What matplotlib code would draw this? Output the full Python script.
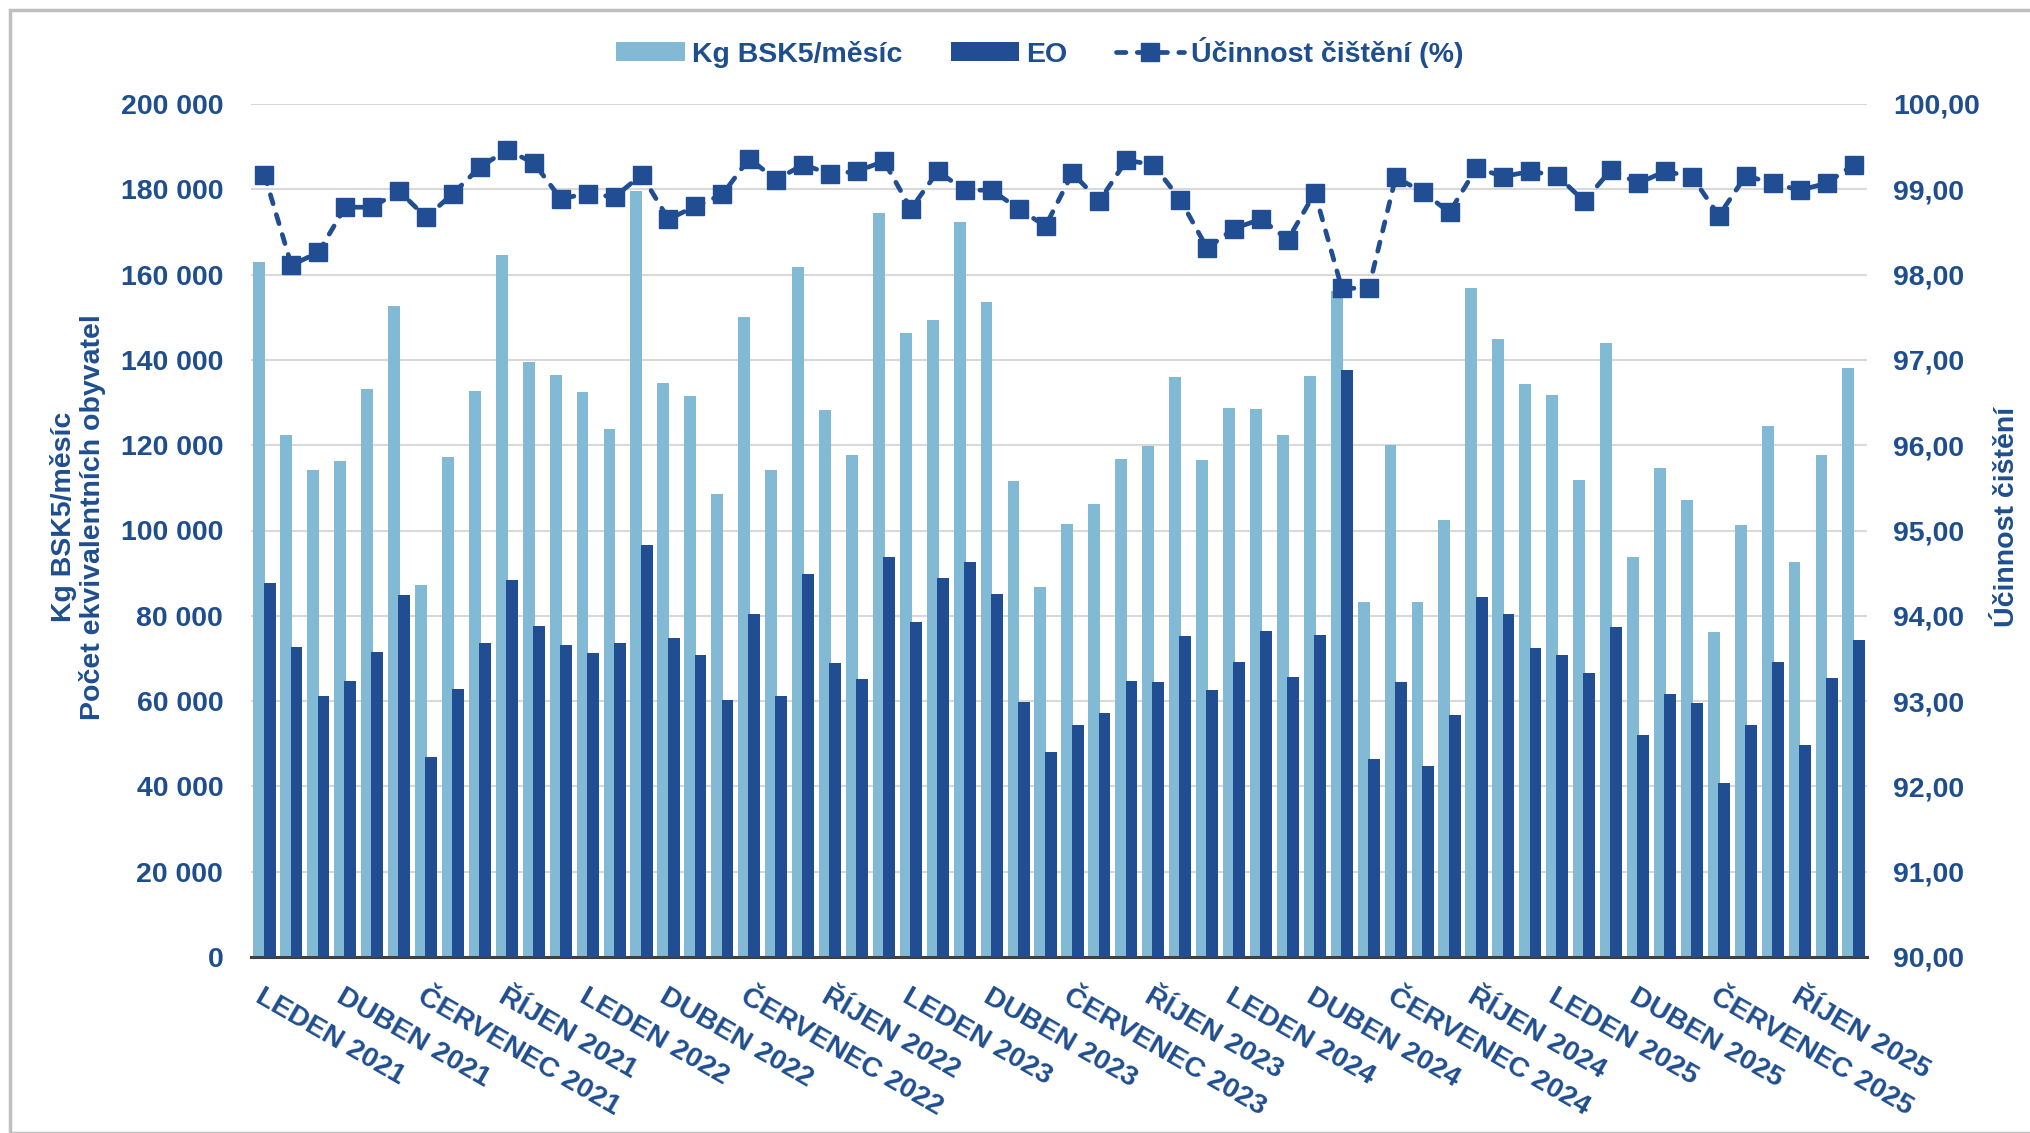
import numpy as np
import matplotlib.pyplot as plt
from matplotlib.ticker import FuncFormatter, MultipleLocator
from matplotlib.patches import Rectangle

plt.rcParams['font.family'] = ['Liberation Sans', 'DejaVu Sans']
plt.rcParams['font.weight'] = 'bold'

# monthly data Jan 2021 - Dec 2025
kg_bsk5 = [162900, 122300, 114100, 116400, 133100, 152700, 87200, 117200, 132800, 164700, 139500, 136400,
           132500, 123900, 179600, 134500, 131500, 108500, 150000, 114300, 161700, 128300, 117600, 174400,
           146300, 149300, 172400, 153500, 111500, 86700, 101600, 106300, 116700, 119900, 135900, 116500,
           128700, 128400, 122400, 136300, 156100, 83300, 120000, 83300, 102400, 156800, 144900, 134400,
           131700, 111900, 143900, 93900, 114700, 107100, 76100, 101300, 124500, 92500, 117700, 138100]
eo = [87600, 72800, 61300, 64700, 71500, 84800, 46900, 62900, 73700, 88500, 77500, 73200,
      71200, 73700, 96500, 74700, 70700, 60300, 80500, 61300, 89900, 68900, 65200, 93900,
      78500, 88800, 92700, 85100, 59900, 48100, 54500, 57200, 64800, 64400, 75300, 62500,
      69200, 76400, 65700, 75600, 137700, 46400, 64500, 44800, 56800, 84300, 80500, 72400,
      70800, 66500, 77300, 52100, 61600, 59500, 40900, 54500, 69200, 49700, 65500, 74300]
ucinnost = [99.17, 98.11, 98.26, 98.79, 98.79, 98.98, 98.67, 98.95, 99.26, 99.46, 99.31, 98.89,
            98.95, 98.91, 99.17, 98.65, 98.80, 98.94, 99.36, 99.11, 99.29, 99.18, 99.21, 99.33,
            98.77, 99.21, 98.99, 98.99, 98.77, 98.57, 99.19, 98.86, 99.34, 99.29, 98.88, 98.31,
            98.54, 98.65, 98.41, 98.96, 97.84, 97.84, 99.14, 98.97, 98.73, 99.25, 99.15, 99.21,
            99.16, 98.86, 99.23, 99.07, 99.21, 99.15, 98.69, 99.16, 99.07, 98.99, 99.07, 99.29]

tick_labels = []
for year in range(2021, 2026):
    for m in ["LEDEN", "DUBEN", "ČERVENEC", "ŘÍJEN"]:
        tick_labels.append(f"{m} {year}")

light = '#82BAD5'
dark = '#214E92'
text_col = '#1F4E8F'

fig = plt.figure(figsize=(20.31, 11.33), dpi=100)
ax = fig.add_axes([251 / 2031, (1133 - 957) / 1133, (1867 - 251) / 2031, (957 - 104) / 1133])
ax2 = ax.twinx()

x = np.arange(len(kg_bsk5))
ax.bar(x - 0.19, kg_bsk5, width=0.44, color=light, label="Kg BSK5/měsíc", zorder=2)
ax.bar(x + 0.19, eo, width=0.44, color=dark, label="EO", zorder=3)
ax2.plot(x, ucinnost, color=dark, lw=3.4, linestyle=(0, (2.0, 2.4)), dash_capstyle='round',
         marker='s', markersize=12.8, label="Účinnost čištění (%)")

ax.set_xlim(-0.5, len(x) - 0.5)
ax.set_ylim(0, 200000)
ax.yaxis.set_major_locator(MultipleLocator(20000))
ax.yaxis.set_major_formatter(FuncFormatter(lambda v, p: f"{int(v):,}".replace(",", " ")))
ax2.set_ylim(90, 100)
ax2.yaxis.set_major_locator(MultipleLocator(1))
ax2.yaxis.set_major_formatter(FuncFormatter(lambda v, p: f"{v:.2f}".replace(".", ",")))

ax.grid(axis='y', color='#D9D9D9', lw=1.5)
ax.set_axisbelow(True)

for a in (ax, ax2):
    for s in ['top', 'left', 'right']:
        a.spines[s].set_visible(False)
ax2.spines['bottom'].set_visible(False)
ax.spines['bottom'].set_color('#404040')
ax.spines['bottom'].set_linewidth(2.2)

ax.tick_params(axis='y', length=0, pad=20, labelsize=20.5, labelcolor=text_col)
ax2.tick_params(axis='y', length=0, pad=19, labelsize=20.5, labelcolor=text_col)
ax.set_xticks(x[::3])
ax.set_xticklabels(tick_labels, rotation=-30, ha='left', va='top', rotation_mode='anchor',
                   fontsize=20.5, color=text_col)
ax.tick_params(axis='x', length=0, pad=19)

fig.text(78 / 2031, 1 - 517 / 1133, "Kg BSK5/měsíc\nPočet ekvivalentních obyvatel", rotation=90,
         ha='center', va='center', multialignment='center', fontsize=20.5, color=text_col,
         linespacing=1.1)
fig.text(2007 / 2031, 1 - 517 / 1133, "Účinnost čištění", rotation=90,
         ha='center', va='center', fontsize=20.5, color=text_col)

h1, l1 = ax.get_legend_handles_labels()
h2, l2 = ax2.get_legend_handles_labels()
fig.legend(h1 + h2, l1 + l2, loc='center', bbox_to_anchor=(1040 / 2031, 1 - 52 / 1133), ncol=3,
           frameon=False, fontsize=20.5, labelcolor=text_col, handlelength=2.4, handleheight=0.65,
           handletextpad=0.25, columnspacing=1.7)

fig.patches.append(Rectangle((10 / 2031, 0), 1.0, 1 - 10 / 1133, transform=fig.transFigure,
                             fill=False, edgecolor='#BFBFBF', lw=2.5))

fig.savefig("out.png", dpi=100)
